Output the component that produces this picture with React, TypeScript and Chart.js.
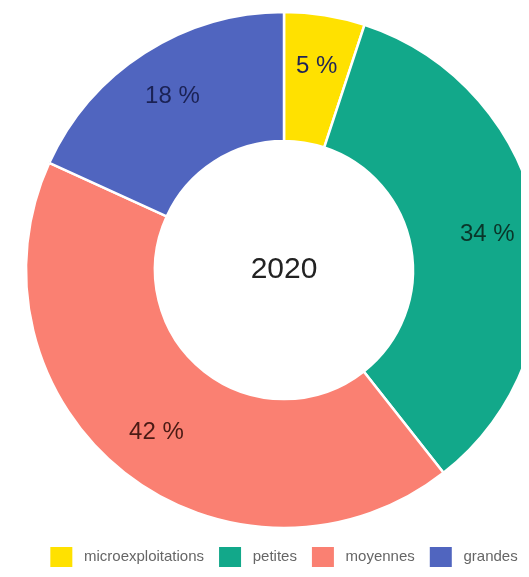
import { useEffect, useRef } from "react";
import { Chart, registerables } from "chart.js";

Chart.register(...registerables);

const categories = ["microexploitations", "petites", "moyennes", "grandes"];
const shares = [5, 34, 42, 18];
const sliceColors = ["#FFE100", "#12A88A", "#FA8072", "#5065BF"];
const labelColors = ["#1F2456", "#0A3529", "#4A1A14", "#1B2254"];
const centerTitle = "2020";

const FONT = "'Liberation Sans', Arial, sans-serif";

const labelPlugin = {
  id: "sliceLabels",
  afterDatasetsDraw(chart: any) {
    const meta = chart.getDatasetMeta(0);
    const ctx = chart.ctx;
    ctx.save();
    ctx.textAlign = "center";
    ctx.textBaseline = "middle";
    ctx.font = `24px ${FONT}`;
    meta.data.forEach((arc: any, i: number) => {
      const { x, y, startAngle, endAngle, innerRadius, outerRadius } = arc.getProps(
        ["x", "y", "startAngle", "endAngle", "innerRadius", "outerRadius"],
        true
      );
      const mid = (startAngle + endAngle) / 2;
      const r = innerRadius + (outerRadius - innerRadius) * 0.6;
      ctx.fillStyle = labelColors[i];
      ctx.fillText(`${shares[i]} %`, x + Math.cos(mid) * r, y + Math.sin(mid) * r);
    });
    const first = meta.data[0];
    ctx.font = `30px ${FONT}`;
    ctx.fillStyle = "#222222";
    ctx.fillText(centerTitle, first.x, first.y);
    ctx.restore();
  },
};

export default function App() {
  const canvasRef = useRef<HTMLCanvasElement | null>(null);

  useEffect(() => {
    if (!canvasRef.current) return;
    const baseGenerate = (Chart as any).overrides.doughnut.plugins.legend.labels.generateLabels;
    const chart = new Chart(canvasRef.current, {
      type: "doughnut",
      data: {
        labels: categories,
        datasets: [
          {
            data: shares,
            backgroundColor: sliceColors,
            borderColor: "#ffffff",
            borderWidth: 2.5,
          },
        ],
      },
      options: {
        animation: false,
        responsive: true,
        maintainAspectRatio: false,
        radius: 258,
        cutout: "50%",
        layout: { padding: 0 },
        plugins: {
          tooltip: { enabled: false },
          legend: {
            position: "bottom",
            labels: {
              boxWidth: 22,
              boxHeight: 20,
              padding: 15,
              color: "#666666",
              font: { size: 15, family: FONT },
              generateLabels: (c: any) =>
                baseGenerate(c).map((item: any) => ({
                  ...item,
                  text: " " + item.text,
                  lineWidth: 0,
                })),
            },
          },
        },
      } as any,
      plugins: [labelPlugin],
    });
    return () => chart.destroy();
  }, []);

  return (
    <div style={{ width: 521, height: 569, overflow: "hidden" }}>
      <div style={{ width: 552, height: 569, position: "relative" }}>
        <canvas ref={canvasRef} />
      </div>
    </div>
  );
}
